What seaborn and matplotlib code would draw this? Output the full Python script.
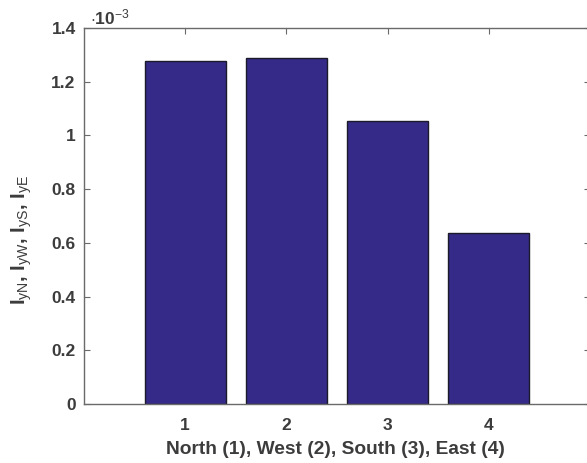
import matplotlib
matplotlib.use("Agg")
import matplotlib.pyplot as plt
from matplotlib.ticker import FuncFormatter
import seaborn as sns

# Inertia per facade orientation
positions = [1, 2, 3, 4]
values = [1.277e-3, 1.289e-3, 1.055e-3, 0.636e-3]
y_ticks = [0, 0.2e-3, 0.4e-3, 0.6e-3, 0.8e-3, 1.0e-3, 1.2e-3, 1.4e-3]
x_label = "North (1), West (2), South (3), East (4)"
y_label = r"I$_{yN}$, I$_{yW}$, I$_{yS}$, I$_{yE}$"

sns.set_theme(style="white")
plt.rcParams["font.family"] = ["Liberation Sans", "DejaVu Sans"]
plt.rcParams["mathtext.fontset"] = "custom"
plt.rcParams["mathtext.rm"] = "Liberation Sans"
plt.rcParams["mathtext.it"] = "Liberation Sans"
plt.rcParams["mathtext.bf"] = "Liberation Sans:bold"

text_color = "#3c3c3c"
spine_color = "#6a6a6a"
bar_color = "#352a87"

fig = plt.figure(figsize=(5.87, 4.63), dpi=100)
ax = fig.add_axes([84 / 587, 59 / 463, 506 / 587, 376 / 463])

sns.barplot(x=positions, y=values, native_scale=True, width=0.8,
            color=bar_color, saturation=1, edgecolor="#1a1a2a",
            linewidth=1.0, ax=ax)

ax.set_xlim(0, 5)
ax.set_ylim(0, 1.4e-3)
ax.set_xticks(positions)
ax.set_yticks(y_ticks)
ax.yaxis.set_major_formatter(FuncFormatter(lambda v, _: f"{v * 1e3:g}"))

for side in ["left", "right", "top", "bottom"]:
    ax.spines[side].set_visible(True)
    ax.spines[side].set_color(spine_color)
    ax.spines[side].set_linewidth(1.0)

ax.tick_params(axis="both", which="both", direction="in", length=4,
               width=0.8, color=spine_color, labelcolor=text_color,
               labelsize=12.5, top=True, right=True, bottom=True, left=True)
ax.tick_params(axis="x", pad=10)
ax.tick_params(axis="y", pad=6)
for lab in ax.get_xticklabels() + ax.get_yticklabels():
    lab.set_fontweight("bold")

ax.set_xlabel(x_label, fontsize=13.8, color=text_color, fontweight="bold")
ax.xaxis.set_label_coords(0.497, -(450 - 404) / 376)
ax.xaxis.label.set_va("center")

ax.set_ylabel(y_label, fontsize=14.5, color=text_color, fontweight="bold")
ax.yaxis.set_label_coords((22 - 84) / 506, (463 - 240 - 59) / 376)
ax.yaxis.label.set_va("center")

ax.text(0.012, 1 + 4 / 376, r"$\cdot$10$^{-3}$", transform=ax.transAxes,
        fontsize=12.5, color=text_color, fontweight="bold",
        ha="left", va="baseline")

fig.savefig("out.png", dpi=100)
